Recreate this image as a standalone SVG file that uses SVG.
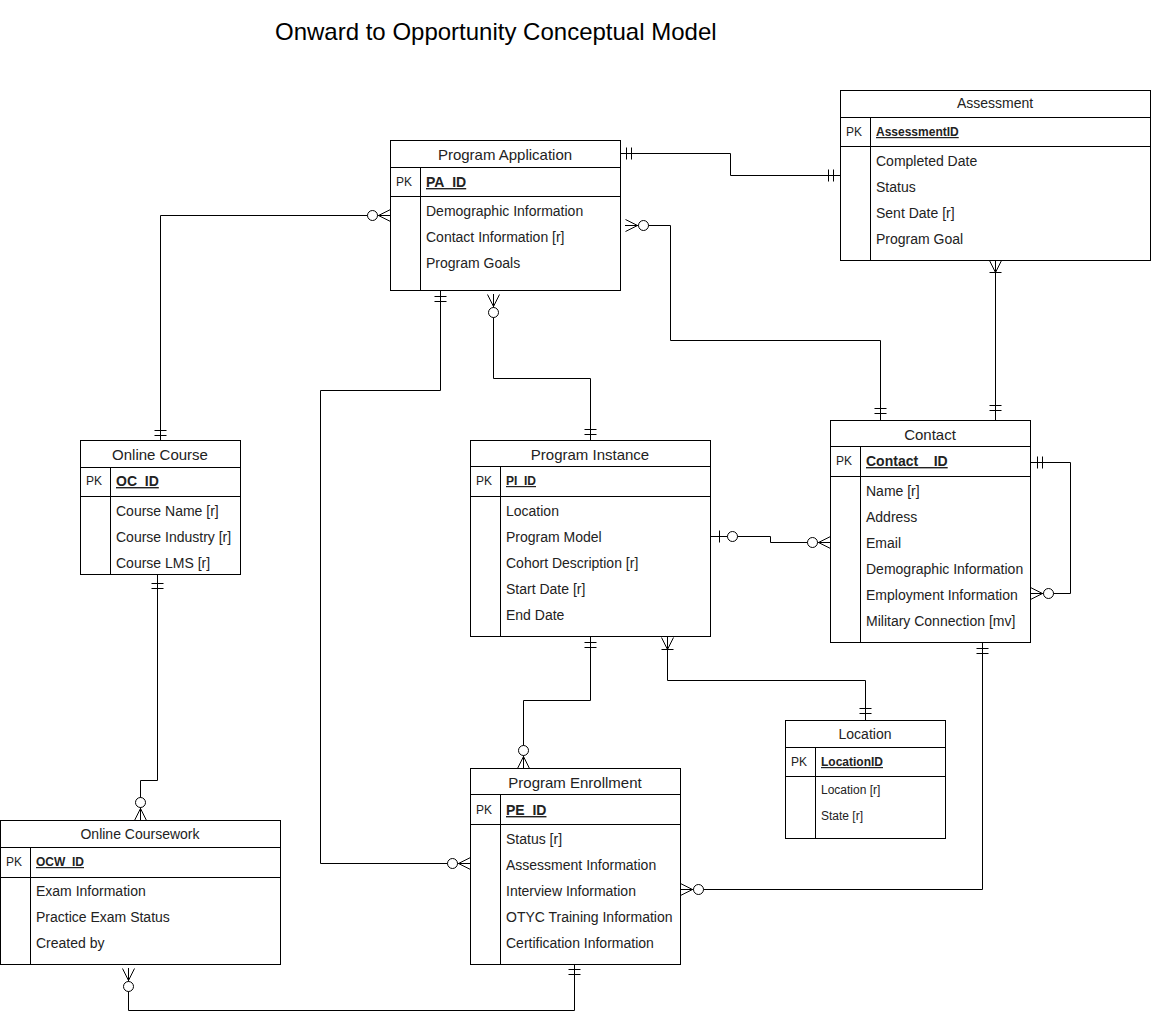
<svg xmlns="http://www.w3.org/2000/svg" xmlns:xlink="http://www.w3.org/1999/xlink" width="1151" height="1025" viewBox="0 0 1151 1025">
<style>
.box{fill:#fff;stroke:#000;stroke-width:1}
.ln{fill:none;stroke:#000;stroke-width:1}
text{font-family:"Liberation Sans",Arial,sans-serif;fill:#222}
.title{font-size:24px;fill:#000}
.hd{font-size:14px;text-anchor:middle}
.hd15{font-size:15px;text-anchor:middle}
.at{font-size:14px}
.at12{font-size:12px}
.pk{font-size:12px}
.key{font-size:14px;font-weight:bold;text-decoration:underline}
.key12{font-size:12px;font-weight:bold;text-decoration:underline}
</style>
<defs>
<g id="mand" fill="none" stroke="#000"><path d="M6,-6V6M11,-6V6"/></g>
<g id="zmany" fill="none" stroke="#000"><path d="M0,-6L12,0M0,6L12,0M0,0H12"/><circle cx="18" cy="0" r="5" fill="#fff"/></g>
<g id="omany" fill="none" stroke="#000"><path d="M0,-6L12,0M0,6L12,0M0,0H12M12,-6V6"/></g>
<g id="zone" fill="none" stroke="#000"><path d="M9,-6V6"/><circle cx="22" cy="0" r="5" fill="#fff"/></g>
</defs>
<rect width="1151" height="1025" fill="#fff"/>
<text class="title" x="275" y="40">Onward to Opportunity Conceptual Model</text>

<g id="connectors">
<path class="ln" d="M620,153.5H730.5V175.5H840"/>
<path class="ln" d="M390,215.5H160.5V440"/>
<path class="ln" d="M625,225.5H670.5V340.5H880.5V420"/>
<path class="ln" d="M440.5,290V390.5H320.5V863.5H470"/>
<path class="ln" d="M493.5,294V378.5H590.5V440"/>
<path class="ln" d="M995.5,260V420"/>
<path class="ln" d="M157.5,574V780.5H140.5V820"/>
<path class="ln" d="M128.5,968V1010.5H574.5V964"/>
<path class="ln" d="M590.5,636V700.5H523.5V768"/>
<path class="ln" d="M667.5,636V680.5H865.5V720"/>
<path class="ln" d="M710,536.5H770.5V542.5H830"/>
<path class="ln" d="M1030,462.5H1070.5V593.5H1030"/>
<path class="ln" d="M982.5,642V889.5H680"/>
<use xlink:href="#mand" transform="translate(620.5,153.5)"/>
<use xlink:href="#mand" transform="translate(839.5,175.5) rotate(180)"/>
<use xlink:href="#zmany" transform="translate(390.5,215.5) rotate(180)"/>
<use xlink:href="#mand" transform="translate(160.5,441.5) rotate(-90)"/>
<use xlink:href="#zmany" transform="translate(625.5,225.5)"/>
<use xlink:href="#mand" transform="translate(880.5,419.5) rotate(-90)"/>
<use xlink:href="#mand" transform="translate(440.5,290.5) rotate(90)"/>
<use xlink:href="#zmany" transform="translate(470.5,863.5) rotate(180)"/>
<use xlink:href="#zmany" transform="translate(493.5,294.5) rotate(90)"/>
<use xlink:href="#mand" transform="translate(590.5,440.5) rotate(-90)"/>
<use xlink:href="#omany" transform="translate(995.5,260.5) rotate(90)"/>
<use xlink:href="#mand" transform="translate(995.5,416.5) rotate(-90)"/>
<use xlink:href="#mand" transform="translate(157.5,577.5) rotate(90)"/>
<use xlink:href="#zmany" transform="translate(140.5,820.5) rotate(-90)"/>
<use xlink:href="#zmany" transform="translate(128.5,968.5) rotate(90)"/>
<use xlink:href="#mand" transform="translate(574.5,963.5) rotate(90)"/>
<use xlink:href="#mand" transform="translate(590.5,636.5) rotate(90)"/>
<use xlink:href="#zmany" transform="translate(523.5,768.5) rotate(-90)"/>
<use xlink:href="#omany" transform="translate(667.5,637.5) rotate(90)"/>
<use xlink:href="#mand" transform="translate(865.5,719.5) rotate(-90)"/>
<use xlink:href="#zone" transform="translate(710.5,536.5)"/>
<use xlink:href="#zmany" transform="translate(830.5,542.5) rotate(180)"/>
<use xlink:href="#mand" transform="translate(1031.5,462.5)"/>
<use xlink:href="#zmany" transform="translate(1030.5,593.5)"/>
<use xlink:href="#mand" transform="translate(982.5,642.5) rotate(90)"/>
<use xlink:href="#zmany" transform="translate(680.5,889.5)"/>
</g>

<g id="program-application">
<rect class="box" x="390.5" y="140.5" width="230" height="150"/>
<path class="ln" d="M390.5,167.5H620.5M390.5,196.5H620.5M420.5,167.5V290.5"/>
<text class="hd15" x="505" y="160">Program Application</text>
<text class="pk" x="396" y="186">PK</text>
<text class="key" x="426" y="187">PA_ID</text>
<text class="at" x="426" y="216">Demographic Information</text>
<text class="at" x="426" y="242">Contact Information [r]</text>
<text class="at" x="426" y="268">Program Goals</text>
</g>

<g id="assessment">
<rect class="box" x="840.5" y="90.5" width="310" height="170"/>
<path class="ln" d="M840.5,117.5H1150.5M840.5,146.5H1150.5M870.5,117.5V260.5"/>
<text class="hd" x="995" y="108">Assessment</text>
<text class="pk" x="846" y="136">PK</text>
<text class="key12" x="876" y="136">AssessmentID</text>
<text class="at" x="876" y="166">Completed Date</text>
<text class="at" x="876" y="192">Status</text>
<text class="at" x="876" y="218">Sent Date [r]</text>
<text class="at" x="876" y="244">Program Goal</text>
</g>

<g id="contact">
<rect class="box" x="830.5" y="420.5" width="200" height="222"/>
<path class="ln" d="M830.5,446.5H1030.5M830.5,476.5H1030.5M860.5,446.5V642.5"/>
<text class="hd15" x="930" y="440">Contact</text>
<text class="pk" x="836" y="465">PK</text>
<text class="key" x="866" y="466">Contact__ID</text>
<text class="at" x="866" y="496">Name [r]</text>
<text class="at" x="866" y="522">Address</text>
<text class="at" x="866" y="548">Email</text>
<text class="at" x="866" y="574">Demographic Information</text>
<text class="at" x="866" y="600">Employment Information</text>
<text class="at" x="866" y="626">Military Connection [mv]</text>
</g>

<g id="program-instance">
<rect class="box" x="470.5" y="440.5" width="240" height="196"/>
<path class="ln" d="M470.5,466.5H710.5M470.5,496.5H710.5M500.5,466.5V636.5"/>
<text class="hd15" x="590" y="460">Program Instance</text>
<text class="pk" x="476" y="485">PK</text>
<text class="key12" x="506" y="485">PI_ID</text>
<text class="at" x="506" y="516">Location</text>
<text class="at" x="506" y="542">Program Model</text>
<text class="at" x="506" y="568">Cohort Description [r]</text>
<text class="at" x="506" y="594">Start Date [r]</text>
<text class="at" x="506" y="620">End Date</text>
</g>

<g id="online-course">
<rect class="box" x="80.5" y="440.5" width="160" height="134"/>
<path class="ln" d="M80.5,467.5H240.5M80.5,496.5H240.5M110.5,467.5V574.5"/>
<text class="hd15" x="160" y="460">Online Course</text>
<text class="pk" x="86" y="485">PK</text>
<text class="key" x="116" y="486">OC_ID</text>
<text class="at" x="116" y="516">Course Name [r]</text>
<text class="at" x="116" y="542">Course Industry [r]</text>
<text class="at" x="116" y="568">Course LMS [r]</text>
</g>

<g id="location">
<rect class="box" x="785.5" y="720.5" width="160" height="118"/>
<path class="ln" d="M785.5,747.5H945.5M785.5,776.5H945.5M815.5,747.5V838.5"/>
<text class="hd" x="865" y="739">Location</text>
<text class="pk" x="791" y="766">PK</text>
<text class="key12" x="821" y="766">LocationID</text>
<text class="at12" x="821" y="794">Location [r]</text>
<text class="at12" x="821" y="820">State [r]</text>
</g>

<g id="program-enrollment">
<rect class="box" x="470.5" y="768.5" width="210" height="196"/>
<path class="ln" d="M470.5,794.5H680.5M470.5,824.5H680.5M500.5,794.5V964.5"/>
<text class="hd15" x="575" y="788">Program Enrollment</text>
<text class="pk" x="476" y="814">PK</text>
<text class="key" x="506" y="815">PE_ID</text>
<text class="at" x="506" y="844">Status [r]</text>
<text class="at" x="506" y="870">Assessment Information</text>
<text class="at" x="506" y="896">Interview Information</text>
<text class="at" x="506" y="922">OTYC Training Information</text>
<text class="at" x="506" y="948">Certification Information</text>
</g>

<g id="online-coursework">
<rect class="box" x="0.5" y="820.5" width="280" height="144"/>
<path class="ln" d="M0.5,847.5H280.5M0.5,877.5H280.5M30.5,847.5V964.5"/>
<text class="hd" x="140" y="839">Online Coursework</text>
<text class="pk" x="6" y="866">PK</text>
<text class="key12" x="36" y="866">OCW_ID</text>
<text class="at" x="36" y="896">Exam Information</text>
<text class="at" x="36" y="922">Practice Exam Status</text>
<text class="at" x="36" y="948">Created by</text>
</g>
</svg>
